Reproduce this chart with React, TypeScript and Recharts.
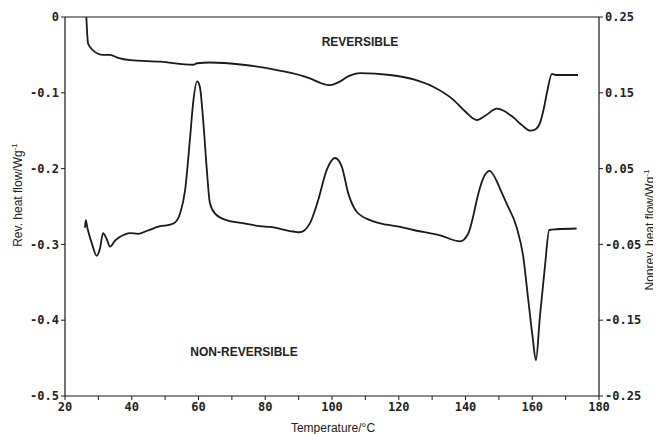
import React from "react";
import { LineChart, Line, XAxis, YAxis, ReferenceLine } from "recharts";

// Reversible heat flow (left axis, W/g) vs temperature (°C)
const revTemp = [26.4, 26.5, 26.7, 26.9, 28.4, 31.4, 33.5, 35.9, 39.5, 48.5, 58.4, 59.6, 63.4, 73.3, 83.5, 93.4, 96.5, 99.4, 102, 105, 108.4, 117.4, 125, 130.3, 136.3, 140, 143.4, 146, 149.4, 154.2, 157, 159.4, 161, 162.3, 163.5, 164.4, 165.9, 167, 173.7];
const revFlow = [0, -0.01, -0.025, -0.035, -0.044, -0.05, -0.05, -0.054, -0.057, -0.059, -0.063, -0.061, -0.06, -0.063, -0.07, -0.081, -0.087, -0.09, -0.086, -0.078, -0.074, -0.0765, -0.083, -0.092, -0.109, -0.125, -0.136, -0.13, -0.121, -0.132, -0.143, -0.15, -0.148, -0.14, -0.12, -0.1, -0.075, -0.0765, -0.0765];

// Non-reversible heat flow (right axis, W/g)
const nonrevTemp = [26.0, 26.2, 26.8, 28.0, 29.5, 30.5, 31.4, 32.5, 33.5, 35.0, 36.5, 39.5, 41.9, 44.6, 48.5, 51.5, 53.0, 54.5, 56.0, 57.5, 58.4, 59.6, 60.4, 61.4, 62.5, 63.4, 64.9, 68.4, 73.3, 78.4, 81.4, 88.4, 90.4, 93.4, 95.9, 98.4, 100.9, 102.9, 104.9, 107.4, 111.4, 116.4, 120.4, 124.4, 132.4, 138.4, 140.8, 142.3, 143.4, 145.3, 147.2, 149.4, 150.3, 152.3, 155.3, 157.3, 158.8, 160.1, 161.1, 162.3, 163.8, 165.1, 167.3, 173.3];
const nonrevFlow = [-0.028, -0.018, -0.03, -0.048, -0.065, -0.055, -0.035, -0.043, -0.053, -0.045, -0.04, -0.035, -0.036, -0.032, -0.026, -0.024, -0.021, -0.009, 0.022, 0.092, 0.137, 0.165, 0.158, 0.114, 0.048, 0.005, -0.009, -0.018, -0.022, -0.026, -0.027, -0.033, -0.034, -0.022, 0.009, 0.048, 0.064, 0.053, 0.017, -0.007, -0.018, -0.024, -0.027, -0.031, -0.038, -0.046, -0.036, -0.013, 0.009, 0.037, 0.047, 0.033, 0.024, 0.004, -0.027, -0.066, -0.123, -0.172, -0.203, -0.145, -0.079, -0.031, -0.03, -0.029];

const xTicks = [20, 30, 40, 50, 60, 70, 80, 90, 100, 110, 120, 130, 140, 150, 160, 170, 180];
const leftTicks = [0, -0.1, -0.2, -0.3, -0.4, -0.5];
const rightTicks = [0.25, 0.15, 0.05, -0.05, -0.15, -0.25];

const revData = revTemp.map((t, i) => ({ t, v: revFlow[i] }));
const nonrevData = nonrevTemp.map((t, i) => ({ t, v: nonrevFlow[i] }));

const INK = "#1a1a1a";
const tickFont = {
  fontFamily: "'DejaVu Sans Mono', monospace",
  fontSize: 12,
  fontWeight: 700,
  fill: "#222",
};
const titleFont: React.CSSProperties = {
  position: "absolute",
  fontFamily: "'Liberation Sans', Arial, sans-serif",
  fontSize: 12,
  color: "#222",
  whiteSpace: "nowrap",
  lineHeight: "12px",
};

export default function App() {
  return (
    <div style={{ position: "relative", width: 653, height: 426, background: "#fff" }}>
      <LineChart
        width={653}
        height={426}
        margin={{ top: 9, right: 0, bottom: 8, left: 0 }}
      >
        <XAxis
          dataKey="t"
          type="number"
          domain={[20, 180]}
          ticks={xTicks}
          allowDataOverflow
          height={30}
          tickSize={4}
          tickFormatter={(v: number) => (v % 20 === 0 ? String(v) : "")}
          tick={tickFont}
          axisLine={{ stroke: INK, strokeWidth: 1.2 }}
          tickLine={{ stroke: INK }}
        />
        <YAxis
          yAxisId="left"
          domain={[-0.5, 0]}
          ticks={leftTicks}
          width={57}
          tickSize={4}
          tickFormatter={(v: number) => (v === 0 ? "0" : v.toFixed(1))}
          tick={tickFont}
          axisLine={{ stroke: INK, strokeWidth: 1.2 }}
          tickLine={{ stroke: INK }}
        />
        <YAxis
          yAxisId="right"
          orientation="right"
          domain={[-0.25, 0.25]}
          ticks={rightTicks}
          width={62}
          tickSize={4}
          tickFormatter={(v: number) => v.toFixed(2)}
          tick={tickFont}
          axisLine={{ stroke: INK, strokeWidth: 1.2 }}
          tickLine={{ stroke: INK }}
        />
        <ReferenceLine yAxisId="left" y={0} stroke={INK} strokeWidth={1.2} />
        <Line
          yAxisId="left"
          data={revData}
          dataKey="v"
          type="monotone"
          stroke={INK}
          strokeWidth={1.8}
          dot={false}
          isAnimationActive={false}
        />
        <Line
          yAxisId="right"
          data={nonrevData}
          dataKey="v"
          type="monotone"
          stroke={INK}
          strokeWidth={1.8}
          dot={false}
          isAnimationActive={false}
        />
      </LineChart>

      <div style={{ ...titleFont, fontWeight: 700, left: 352, top: 34, transform: "translate(-50%, -50%)" }}>
        REVERSIBLE
      </div>
      <div style={{ ...titleFont, fontWeight: 700, left: 236, top: 344, transform: "translate(-50%, -50%)" }}>
        NON-REVERSIBLE
      </div>
      <div style={{ ...titleFont, left: 8, top: 187, transform: "translate(-50%, -50%) rotate(-90deg)" }}>
        Rev. heat flow/Wg<sup style={{ fontSize: 8 }}>-1</sup>
      </div>
      <div style={{ ...titleFont, left: 640, top: 222, transform: "translate(-50%, -50%) rotate(-90deg)" }}>
        Nonrev. heat flow/Wg<sup style={{ fontSize: 8 }}>-1</sup>
      </div>
      <div style={{ ...titleFont, left: 325, top: 420, transform: "translate(-50%, -50%)" }}>
        Temperature/°C
      </div>
    </div>
  );
}
